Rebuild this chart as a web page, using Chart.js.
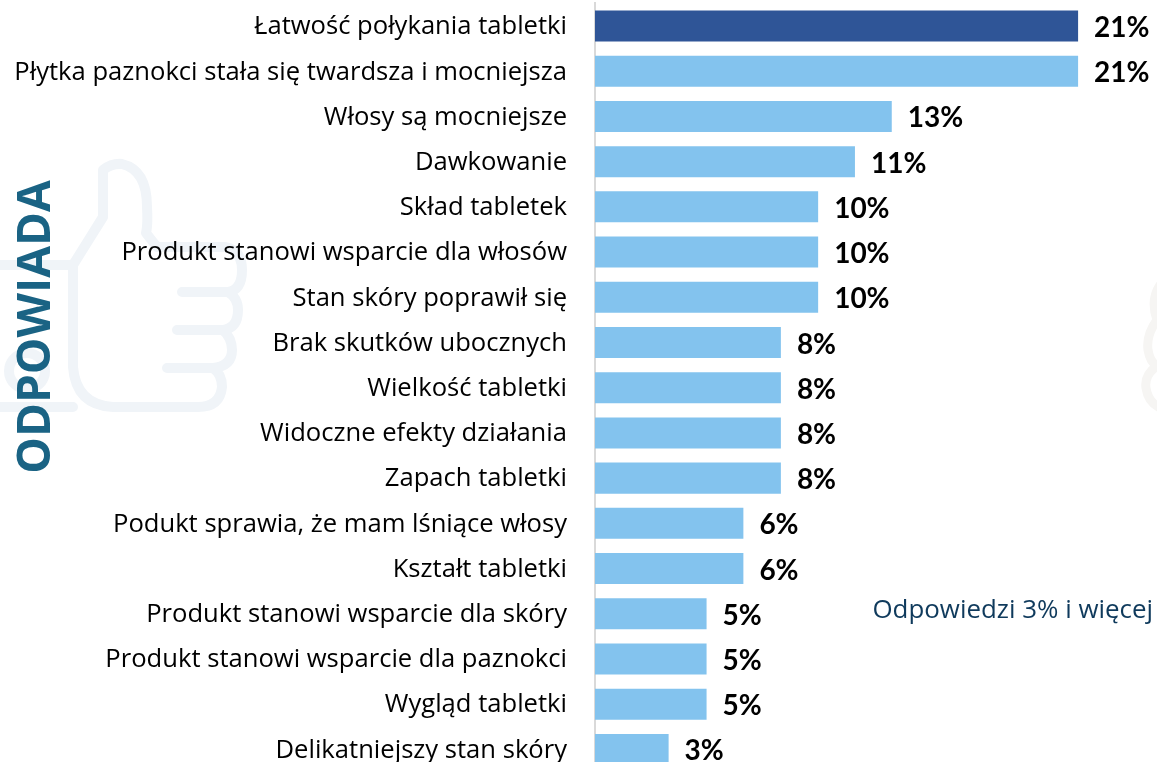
<!DOCTYPE html>
<html><head><meta charset="utf-8">
<style>
html,body{margin:0;padding:0;background:#fff;overflow:hidden}
#wrap{position:relative;width:1157px;height:762px;overflow:hidden}
#wrap svg,#wrap canvas{position:absolute;left:0;top:0}
</style>
<script src="https://cdn.jsdelivr.net/npm/chart.js@4"></script>
</head><body>
<div id="wrap">
<svg width="1157" height="762" fill="none" stroke-linecap="round" stroke-linejoin="round">
<g stroke="#f0f4f8" stroke-width="10">
<path d="M0 265H73L103 217V170Q112 163 122 164Q147 170 147 207Q148 225 146 233L157 247H225Q242 250 242 270Q242 290 228 292H182M228 292Q238 298 238 310Q238 328 223 330H177M223 330Q232 338 232 350Q232 366 213 368H167M213 368Q222 374 222 387Q220 407 198 407H113Q76 405 73 367V265M73 407H0"/>
<circle cx="27" cy="371" r="18"/>
</g>
<g stroke="#f6f5f3" stroke-width="9">
<path d="M1160 285Q1150 300 1157 320Q1146 335 1148 350Q1150 362 1157 366Q1144 375 1146 388Q1148 402 1160 408"/>
</g>
</svg>
<canvas id="c" width="1157" height="772"></canvas>
</div>
<script>
const categories = ["Łatwość połykania tabletki","Płytka paznokci stała się twardsza i mocniejsza","Włosy są mocniejsze","Dawkowanie","Skład tabletek","Produkt stanowi wsparcie dla włosów","Stan skóry poprawił się","Brak skutków ubocznych","Wielkość tabletki","Widoczne efekty działania","Zapach tabletki","Podukt sprawia, że mam lśniące włosy","Kształt tabletki","Produkt stanowi wsparcie dla skóry","Produkt stanowi wsparcie dla paznokci","Wygląd tabletki","Delikatniejszy stan skóry"];
const values = [21,21,12.9,11.3,9.7,9.7,9.7,8.08,8.08,8.08,8.08,6.45,6.45,4.85,4.85,4.85,3.2];
const valueLabels = ["21%","21%","13%","11%","10%","10%","10%","8%","8%","8%","8%","6%","6%","5%","5%","5%","3%"];
const barColors = ["#2f5597","#83c3ee","#83c3ee","#83c3ee","#83c3ee","#83c3ee","#83c3ee","#83c3ee","#83c3ee","#83c3ee","#83c3ee","#83c3ee","#83c3ee","#83c3ee","#83c3ee","#83c3ee","#83c3ee"];
const axisTitle = "ODPOWIADA";
const note = "Odpowiedzi 3% i więcej";

const textPlugin = {
  id:'textPlugin',
  afterDatasetsDraw(chart){
    const ctx = chart.ctx, meta = chart.getDatasetMeta(0);
    ctx.save();
    ctx.fillStyle = '#000';
    ctx.font = 'bold 28px Lato';
    ctx.textAlign = 'left';
    ctx.textBaseline = 'middle';
    meta.data.forEach((bar,i)=>ctx.fillText(valueLabels[i], bar.x+16, bar.y+2));
    ctx.font = '25.9px "Open Sans"';
    ctx.fillStyle = '#0f3a5c';
    ctx.textAlign = 'right';
    ctx.fillText(note, 1153, 611);
    ctx.translate(50, 327);
    ctx.rotate(-Math.PI/2);
    ctx.font = 'bold 46px "Open Sans"';
    ctx.fillStyle = '#1a6384';
    ctx.textAlign = 'center';
    ctx.textBaseline = 'alphabetic';
    ctx.fillText(axisTitle, 0, 0);
    ctx.restore();
  }
};

new Chart(document.getElementById('c'),{
  type:'bar',
  data:{labels:categories,datasets:[{data:values,backgroundColor:barColors,borderWidth:0,barPercentage:0.686,categoryPercentage:1}]},
  plugins:[textPlugin],
  options:{
    indexAxis:'y',responsive:false,animation:false,
    layout:{padding:{top:3.4,bottom:0,left:0,right:0}},
    plugins:{legend:{display:false},tooltip:{enabled:false},title:{display:false}},
    scales:{
      x:{display:false,min:0,max:24.43},
      y:{
        afterFit(s){s.width=595;s.paddingTop=0;s.paddingBottom=0;},
        grid:{display:false,drawTicks:false},
        border:{display:true,color:'#d9d9d9',width:2},
        ticks:{color:'#000',padding:28,autoSkip:false,labelOffset:1,font:{family:'"Open Sans"',size:25.6}}
      }
    }
  }
});
</script>
</body></html>
